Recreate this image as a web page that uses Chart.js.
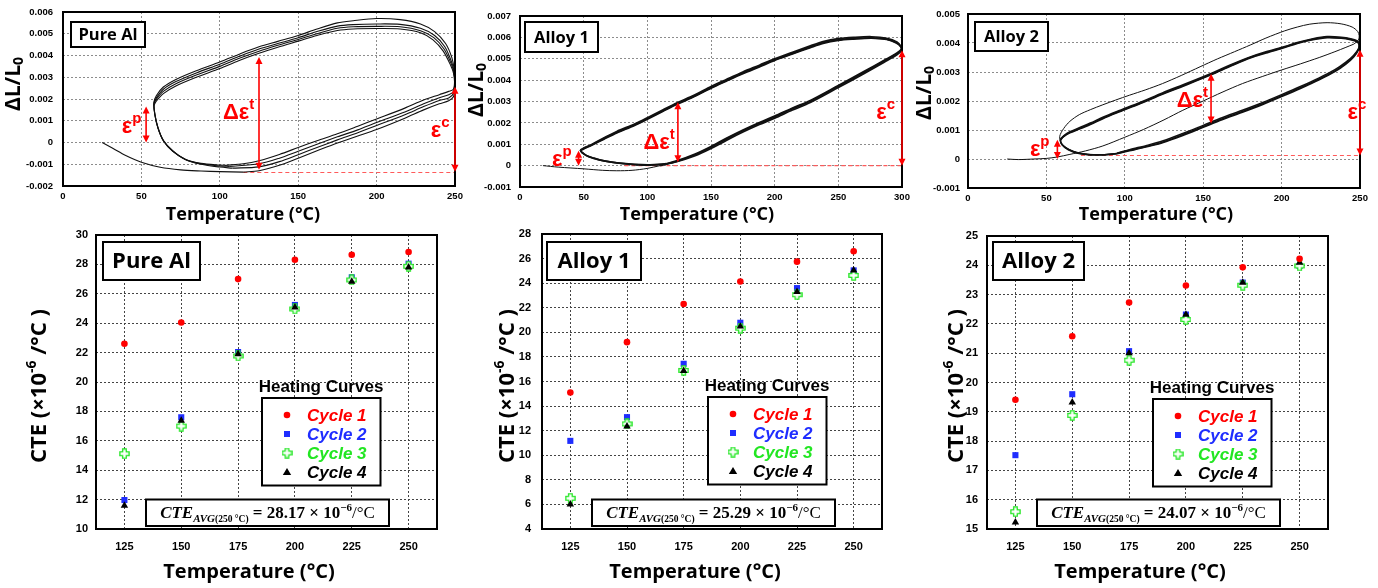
<!DOCTYPE html>
<html>
<head>
<meta charset="utf-8">
<script src="https://cdn.jsdelivr.net/npm/chart.js@4.4.1/dist/chart.umd.min.js"></script>
<style>
  html, body { margin: 0; padding: 0; background: #fff; }
  #wrap { position: relative; width: 1378px; height: 588px; overflow: hidden; background: #fff; }
  canvas { position: absolute; }
</style>
</head>
<body>
<div id="wrap">
  <canvas id="pureLoop" width="470" height="228" style="left:0;top:0"></canvas>
  <canvas id="alloy1Loop" width="458" height="228" style="left:460px;top:0"></canvas>
  <canvas id="alloy2Loop" width="468" height="228" style="left:910px;top:0"></canvas>
  <canvas id="pureCte" width="460" height="360" style="left:0;top:228px"></canvas>
  <canvas id="alloy1Cte" width="458" height="360" style="left:460px;top:228px"></canvas>
  <canvas id="alloy2Cte" width="460" height="360" style="left:918px;top:228px"></canvas>
</div>
<script>
// ---- dilatometer curves: [temperature °C, ΔL/L0 in units of 1e-3] ----
const pureInitial = [[25,0],[32,-0.28],[40,-0.6],[50,-0.91],[62,-1.14],[75,-1.26],[88,-1.31],[100,-1.34],[115,-1.36]];
const pureCycle1 = [[115,-1.36],[125,-1.3],[138,-1.05],[150,-0.72],[162,-0.38],[175,-0.02],[188,0.3],[200,0.6],[218,1.12],[230,1.5],[240,1.78],[246,1.92],[249,2.1],[250,2.6],[249.6,3.3],[248,3.9],[244,4.55],[237,5.1],[228,5.45],[215,5.65],[200,5.7],[185,5.6],[175,5.5],[162,5.22],[150,4.92],[137,4.65],[125,4.4],[112,4.05],[100,3.7],[85,3.3],[72,2.9],[64,2.55],[59.5,2.15],[58,1.85],[58.5,1.35],[60.5,0.7],[64,0.1],[70,-0.38],[78,-0.78],[88,-1.0],[100,-1.13],[108,-1.18]];
const pureCycle2 = [[108,-1.18],[125,-1.12],[138,-0.88],[150,-0.56],[162,-0.23],[175,0.12],[188,0.45],[200,0.78],[218,1.28],[230,1.65],[240,1.93],[246,2.05],[249,2.25],[249.8,2.7],[249.3,3.3],[247.6,3.75],[243.5,4.4],[237,4.92],[228,5.25],[215,5.43],[200,5.45],[185,5.42],[175,5.35],[162,5.1],[150,4.82],[137,4.55],[125,4.3],[112,3.95],[100,3.6],[85,3.2],[72,2.8],[64,2.45],[59.5,2.05],[58,1.8],[58.5,1.3],[60.5,0.68],[64,0.08],[70,-0.4],[78,-0.78],[88,-0.98],[100,-1.08],[106,-1.1]];
const pureCycle3 = [[106,-1.1],[125,-0.98],[138,-0.72],[150,-0.4],[162,-0.08],[175,0.26],[188,0.58],[200,0.92],[218,1.4],[230,1.78],[240,2.06],[246,2.2],[249,2.35],[249.8,2.75],[249.2,3.25],[247.4,3.65],[243,4.3],[236.5,4.82],[228,5.14],[215,5.32],[200,5.34],[185,5.32],[175,5.25],[162,5.0],[150,4.74],[137,4.47],[125,4.2],[112,3.86],[100,3.5],[85,3.1],[72,2.7],[64,2.35],[59.5,1.98],[58,1.76],[58.6,1.28],[60.6,0.66],[64.2,0.06],[70,-0.41],[78,-0.77],[88,-0.96],[100,-1.04],[104,-1.05]];
const pureCycle4 = [[104,-1.05],[115,-0.98],[125,-0.84],[138,-0.55],[150,-0.23],[162,0.08],[175,0.4],[188,0.75],[200,1.08],[218,1.58],[230,1.95],[240,2.2],[246,2.35],[249,2.45],[249.7,2.8],[249,3.2],[247.2,3.55],[242.5,4.2],[236,4.72],[228,5.05],[215,5.22],[200,5.24],[185,5.22],[175,5.15],[162,4.92],[150,4.66],[137,4.38],[125,4.1],[112,3.76],[100,3.4],[85,3.0],[72,2.6],[64,2.25],[59.5,1.9],[58,1.7]];

const alloy1Initial = [[18,0],[30,-0.07],[50,-0.15],[65,-0.22],[76,-0.24],[88,-0.22],[100,-0.13],[110,0]];
const alloy1Cycle1 = [[110,0],[123,0.18],[137,0.45],[150,0.8],[162,1.18],[175.5,1.58],[188,1.92],[200,2.22],[214,2.6],[228,2.95],[250,3.65],[270,4.3],[286,4.84],[296,5.18],[299.5,5.38],[299.3,5.55],[296,5.78],[288,5.96],[276,6.03],[262,6.0],[250,5.94],[238,5.8],[228,5.6],[214,5.3],[200,5.0],[188,4.7],[175,4.38],[162,4.03],[150,3.7],[137,3.3],[123,2.93],[112,2.6],[102,2.3],[90,1.95],[76,1.6],[66,1.3],[56,0.98],[50,0.82],[47.5,0.72],[52,0.48],[58,0.35],[66,0.22],[76,0.13],[90,0.05],[102,0.02],[115,0.07]];
const alloy1Cycle2 = [[115,0.07],[123,0.2],[137,0.5],[150,0.86],[162,1.24],[175.5,1.64],[188,1.98],[200,2.28],[214,2.66],[228,3.01],[250,3.71],[270,4.36],[286,4.9],[296,5.24],[299.5,5.42],[299.2,5.56],[296,5.75],[288,5.92],[276,5.98],[262,5.95],[250,5.89],[238,5.75],[228,5.55],[214,5.25],[200,4.95],[188,4.65],[175,4.33],[162,3.98],[150,3.65],[137,3.26],[123,2.89],[112,2.56],[102,2.26],[90,1.91],[76,1.56],[66,1.27],[56,0.96],[50,0.8],[47.5,0.71],[52,0.47],[58,0.34],[66,0.22],[76,0.13],[90,0.06],[102,0.04],[115,0.09]];
const alloy1Cycle3 = [[115,0.09],[123,0.22],[137,0.53],[150,0.9],[162,1.28],[175.5,1.68],[188,2.02],[200,2.32],[214,2.7],[228,3.05],[250,3.75],[270,4.4],[286,4.93],[296,5.27],[299.5,5.45],[299,5.58],[295.5,5.74],[288,5.9],[276,5.96],[262,5.92],[250,5.86],[238,5.72],[228,5.52],[214,5.22],[200,4.92],[188,4.62],[175,4.3],[162,3.95],[150,3.62],[137,3.23],[123,2.86],[112,2.53],[102,2.23],[90,1.88],[76,1.53],[66,1.24],[56,0.94],[50,0.78],[47.5,0.7]];

const alloy2Initial = [[25,0],[32,-0.02],[42,0],[50,0.02],[57,0.07],[65,0.16],[75,0.28],[86,0.45],[100,0.75],[112,1.02],[125,1.35],[137,1.68],[150,2.0],[162,2.3],[175,2.6],[188,2.85],[200,3.07],[212,3.28],[224,3.5],[234,3.7],[241,3.85],[246,3.96]];
const alloy2Cycle1 = [[246,3.96],[249,4.1],[249.5,4.25],[248.5,4.4],[245,4.55],[238,4.66],[229,4.7],[218,4.65],[210,4.55],[202,4.42],[190,4.17],[180,3.93],[170,3.7],[159,3.45],[148,3.18],[136,2.88],[124,2.6],[113,2.38],[103,2.2],[94,2.03],[86,1.87],[78,1.7],[71,1.53],[65,1.3],[61,1.05],[58.5,0.78],[59.5,0.55],[63,0.38],[69,0.24],[76,0.17],[86,0.15],[95,0.2]];
const alloy2Cycle2 = [[95,0.2],[103,0.32],[114,0.47],[124,0.62],[137,0.88],[150,1.16],[162,1.42],[175,1.68],[188,1.95],[200,2.22],[212,2.5],[224,2.8],[234,3.08],[241,3.34],[246,3.58],[249,3.8],[249.5,3.97],[248,4.08],[244,4.15],[238,4.2],[229,4.22],[220,4.15],[210,4.02],[202,3.88],[190,3.7],[180,3.52],[168,3.26],[155,2.95],[140,2.62],[124,2.28],[110,1.96],[95,1.64],[86,1.44],[78,1.24],[71,1.08],[65,0.94],[61,0.8],[59,0.67],[60,0.5],[64,0.33],[70,0.21],[78,0.15],[86,0.15],[95,0.19]];
const alloy2Cycle3 = [[95,0.19],[103,0.3],[114,0.44],[124,0.58],[137,0.84],[150,1.12],[162,1.38],[175,1.64],[188,1.91],[200,2.18],[212,2.46],[224,2.76],[234,3.04],[241,3.3],[246,3.55],[249,3.78],[249.5,3.96],[248,4.06],[244,4.13],[238,4.18],[229,4.2],[220,4.13],[210,4.0],[202,3.86],[190,3.67],[180,3.5],[168,3.23],[155,2.92],[140,2.59],[124,2.25],[110,1.93],[95,1.61],[86,1.41],[78,1.21],[71,1.05],[65,0.92],[61,0.78],[59,0.66],[60,0.49],[64,0.32],[70,0.2],[78,0.14],[86,0.14],[95,0.18]];
const alloy2Cycle4 = [[95,0.18],[103,0.28],[114,0.42],[124,0.56],[137,0.81],[150,1.09],[162,1.35],[175,1.61],[188,1.88],[200,2.15],[212,2.43],[224,2.73],[234,3.01],[241,3.27],[246,3.52],[249,3.76],[249.4,3.94],[248,4.04],[244,4.11],[238,4.16],[229,4.18],[220,4.11],[210,3.98],[202,3.84],[190,3.65],[180,3.48],[168,3.21],[155,2.9],[140,2.57],[124,2.23],[110,1.91],[95,1.59],[86,1.39],[78,1.19],[71,1.03],[65,0.9],[61,0.77],[59,0.65]];

// strain markers (1e-3): arrows [T, from, to], dashed [T1, T2, level], labels [main, sup, T right edge, baseline]
const pureArrows = [[53, 0, 1.65], [125, -1.25, 3.93], [250, -1.35, 2.56]];
const pureDashed = [115, 250, -1.38];
const pureLabels = [['ε', 'p', 50, 0.45], ['Δε', 't', 122, 1.08], ['ε', 'c', 246.5, 0.24]];
const alloy1Arrows = [[46, 0, 0.7], [124, 0.16, 2.97], [300, 0, 5.4]];
const alloy1Dashed = [82, 300, 0];
const alloy1Labels = [['ε', 'p', 40.5, 0.0], ['Δε', 't', 121.5, 0.78], ['ε', 'c', 294.5, 2.18]];
const alloy2Arrows = [[57, 0, 0.66], [155, 1.22, 2.94], [250, 0.12, 3.77]];
const alloy2Dashed = [72, 250, 0.12];
const alloy2Labels = [['ε', 'p', 52, 0.1], ['Δε', 't', 153, 1.78], ['ε', 'c', 254, 1.37]];

// ---- CTE (x10^-6 /°C) per heating cycle ----
const temps = [125, 150, 175, 200, 225, 250];
const pureCte = [
  [22.6, 24.05, 27.0, 28.32, 28.66, 28.84],
  [11.97, 17.6, 22.04, 25.24, 27.12, 28.05],
  [15.12, 17.0, 21.77, 24.97, 26.94, 27.87],
  [11.6, 17.37, 21.9, 25.08, 26.83, 27.8]
];
const alloy1Cte = [
  [15.1, 19.2, 22.3, 24.14, 25.75, 26.6],
  [11.17, 13.1, 17.44, 20.78, 23.6, 25.04],
  [6.5, 12.55, 16.9, 20.34, 23.06, 24.63],
  [6.0, 12.36, 16.87, 20.48, 23.3, 25.04]
];
const alloy2Cte = [
  [19.41, 21.58, 22.73, 23.31, 23.93, 24.22],
  [17.52, 19.6, 21.07, 22.32, 23.41, 23.98],
  [15.59, 18.88, 20.76, 22.15, 23.32, 23.98],
  [15.23, 19.32, 21.0, 22.32, 23.41, 24.09]
];
const cycleNames = ['Cycle 1', 'Cycle 2', 'Cycle 3', 'Cycle 4'];
const cteAvg = ['28.17', '25.29', '24.07'];

const RED = '#ff0000', BLUE = '#1f2dff', GREEN = '#22e622';
const SANS = '"Liberation Sans", Arial, sans-serif';
const OPEN = '"Open Sans", sans-serif';
const SERIF = '"Liberation Serif", serif';

// open plus marker
const plusImg = document.createElement('canvas');
plusImg.width = plusImg.height = 11;
(function () {
  const p = plusImg.getContext('2d');
  const c = 5.5, a = 1.8, b = 4.6;
  p.beginPath();
  p.moveTo(c - a, c - b); p.lineTo(c + a, c - b); p.lineTo(c + a, c - a); p.lineTo(c + b, c - a);
  p.lineTo(c + b, c + a); p.lineTo(c + a, c + a); p.lineTo(c + a, c + b); p.lineTo(c - a, c + b);
  p.lineTo(c - a, c + a); p.lineTo(c - b, c + a); p.lineTo(c - b, c - a); p.lineTo(c - a, c - a);
  p.closePath();
  p.fillStyle = '#fff'; p.fill();
  p.strokeStyle = GREEN; p.lineWidth = 1.3; p.stroke();
})();

function rich(ctx, segs, x, y, align) {
  let w = 0;
  segs.forEach(s => { ctx.font = s[1]; w += ctx.measureText(s[0]).width; });
  let cx = align === 'center' ? x - w / 2 : align === 'right' ? x - w : x;
  ctx.textAlign = 'left';
  segs.forEach(s => {
    ctx.font = s[1];
    ctx.fillStyle = s[3] || '#000';
    ctx.fillText(s[0], cx, y + (s[2] || 0));
    cx += ctx.measureText(s[0]).width;
  });
}

function marker(ctx, kind, x, y) {
  ctx.save();
  if (kind === 0) { ctx.fillStyle = RED; ctx.beginPath(); ctx.arc(x, y, 3.3, 0, Math.PI * 2); ctx.fill(); }
  else if (kind === 1) { ctx.fillStyle = BLUE; ctx.fillRect(x - 3, y - 3, 6, 6); }
  else if (kind === 2) { ctx.drawImage(plusImg, x - 5.5, y - 5.5); }
  else { ctx.fillStyle = '#000'; ctx.beginPath(); ctx.moveTo(x, y - 4); ctx.lineTo(x + 4.2, y + 3); ctx.lineTo(x - 4.2, y + 3); ctx.closePath(); ctx.fill(); }
  ctx.restore();
}

function boxText(ctx, x, y, w, h, text, font) {
  ctx.fillStyle = '#fff'; ctx.fillRect(x, y, w, h);
  ctx.lineWidth = 2; ctx.strokeStyle = '#000'; ctx.strokeRect(x, y, w, h);
  ctx.fillStyle = '#000'; ctx.font = font; ctx.textAlign = 'center'; ctx.textBaseline = 'middle';
  ctx.fillText(text, x + w / 2, y + h / 2 + 1);
}

function deco(spec) {
  return {
    id: 'deco',
    beforeDatasetsDraw(chart) {
      if (!spec.dashed) return;
      const ctx = chart.ctx, xs = chart.scales.x, ys = chart.scales.y;
      const [t1, t2, v] = spec.dashed;
      ctx.save();
      ctx.strokeStyle = '#ff5a5a'; ctx.lineWidth = 1.2; ctx.setLineDash([4, 3]);
      ctx.beginPath();
      ctx.moveTo(xs.getPixelForValue(t1), ys.getPixelForValue(v / 1000));
      ctx.lineTo(xs.getPixelForValue(t2), ys.getPixelForValue(v / 1000));
      ctx.stroke();
      ctx.restore();
    },
    afterDraw(chart) {
      const ctx = chart.ctx, a = chart.chartArea, xs = chart.scales.x, ys = chart.scales.y;
      ctx.save();
      ctx.strokeStyle = '#000'; ctx.lineWidth = spec.frame;
      ctx.strokeRect(a.left, a.top, a.right - a.left, a.bottom - a.top);

      // strain arrows
      (spec.arrows || []).forEach(([t, v1, v2]) => {
        const x = xs.getPixelForValue(t), ya = ys.getPixelForValue(v1 / 1000), yb = ys.getPixelForValue(v2 / 1000);
        ctx.strokeStyle = RED; ctx.fillStyle = RED; ctx.lineWidth = 1.6;
        ctx.beginPath(); ctx.moveTo(x, ya - 3); ctx.lineTo(x, yb + 3); ctx.stroke();
        ctx.beginPath(); ctx.moveTo(x, ya); ctx.lineTo(x - 3.5, ya - 7); ctx.lineTo(x + 3.5, ya - 7); ctx.closePath(); ctx.fill();
        ctx.beginPath(); ctx.moveTo(x, yb); ctx.lineTo(x - 3.5, yb + 7); ctx.lineTo(x + 3.5, yb + 7); ctx.closePath(); ctx.fill();
      });
      ctx.textBaseline = 'alphabetic';
      (spec.labels || []).forEach(([m, s, t, v]) => {
        rich(ctx, [[m, 'bold 22px ' + SANS, 0, RED], [s, 'bold 15px ' + SANS, -10, RED]],
          xs.getPixelForValue(t), ys.getPixelForValue(v / 1000), 'right');
      });

      // name box
      if (spec.box) {
        const b = spec.box;
        boxText(ctx, a.left + b[0], a.top + b[1], b[2], b[3], b[4], b[5]);
      }

      // legend
      if (spec.legend) {
        const lx = a.left + 166, ly = a.top + 163;
        ctx.textAlign = 'center'; ctx.textBaseline = 'middle';
        ctx.fillStyle = '#000'; ctx.font = 'bold 17px ' + SANS;
        ctx.fillText('Heating Curves', lx + 59, ly - 11);
        ctx.fillStyle = '#fff'; ctx.fillRect(lx, ly, 118.5, 87.5);
        ctx.lineWidth = 2; ctx.strokeStyle = '#000'; ctx.strokeRect(lx, ly, 118.5, 87.5);
        const rows = [17, 36, 55, 74], cols = [RED, BLUE, GREEN, '#000'];
        rows.forEach((r, i) => {
          marker(ctx, i, lx + 25, ly + r);
          ctx.textAlign = 'left'; ctx.textBaseline = 'middle';
          ctx.font = 'italic bold 17px ' + SANS; ctx.fillStyle = cols[i];
          ctx.fillText(cycleNames[i], lx + 45, ly + r + 1);
        });
      }

      // average CTE box
      if (spec.avg) {
        const x = a.left + 50, y = a.bottom - 29.5, w = 243, h = 26.5;
        ctx.fillStyle = '#fff'; ctx.fillRect(x, y, w, h);
        ctx.lineWidth = 2; ctx.strokeStyle = '#000'; ctx.strokeRect(x, y, w, h);
        ctx.textBaseline = 'alphabetic';
        rich(ctx, [
          ['CTE', 'bold italic 17px ' + SERIF, 0],
          ['AVG', 'bold italic 11px ' + SERIF, 4],
          ['(250 °C)', 'bold 9.5px ' + SERIF, 4],
          [' = ' + spec.avg + ' × 10', 'bold 17px ' + SERIF, 0],
          ['−6', 'bold 11px ' + SERIF, -7],
          ['/°C', '17px ' + SERIF, 0]
        ], x + w / 2, y + 18.5, 'center');
      }

      // axis titles
      ctx.textBaseline = 'middle';
      rich(ctx, spec.xTitle[2], spec.xTitle[0], spec.xTitle[1], 'center');
      ctx.translate(spec.yTitle[0], spec.yTitle[1]);
      ctx.rotate(-Math.PI / 2);
      rich(ctx, spec.yTitle[2], 0, 0, 'center');
      ctx.restore();
    }
  };
}

const pts = arr => arr.map(([t, v]) => ({ x: t, y: v / 1000 }));

function loopChart(id, W, H, area, xMax, yMin, yMax, curves, widths, tickPad, spec) {
  new Chart(document.getElementById(id), {
    type: 'scatter',
    data: {
      datasets: curves.map((c, i) => ({
        data: pts(c), showLine: true, pointRadius: 0, borderColor: '#111',
        borderWidth: widths[i], tension: 0.3, fill: false
      }))
    },
    options: {
      responsive: false, animation: false, events: [],
      layout: { padding: { left: 0, top: area[1], right: W - area[2], bottom: 0 } },
      plugins: { legend: { display: false }, tooltip: { enabled: false } },
      scales: {
        x: {
          type: 'linear', min: 0, max: xMax,
          ticks: { stepSize: 50, color: '#000', padding: 5, maxRotation: 0, font: { family: SANS, size: 9.5, weight: 'bold' } },
          grid: { color: '#8c8c8c', lineWidth: 1, drawTicks: false },
          border: { display: false, dash: [2, 2] },
          afterFit: s => { s.height = H - area[3]; s.paddingLeft = 0; s.paddingRight = 0; }
        },
        y: {
          type: 'linear', min: yMin, max: yMax,
          ticks: {
            stepSize: 0.001, color: '#000', padding: tickPad,
            font: { family: SANS, size: 9.5, weight: 'bold' },
            callback: v => Math.abs(v) < 1e-9 ? '0' : v.toFixed(3)
          },
          grid: { color: '#8c8c8c', lineWidth: 1, drawTicks: false },
          border: { display: false, dash: [2, 2] },
          afterFit: s => { s.width = area[0]; s.paddingTop = 0; s.paddingBottom = 0; }
        }
      }
    },
    plugins: [deco(spec)]
  });
}

function cteChart(id, W, H, area, yMin, yMax, yStep, series, tickPad, spec) {
  const styles = ['circle', 'rect', plusImg, 'triangle'];
  const colors = [RED, BLUE, GREEN, '#000'];
  const radii = [3.3, 4.3, 5, 4.3];
  const orders = [0, 3, 2, 1];
  new Chart(document.getElementById(id), {
    type: 'scatter',
    data: {
      datasets: series.map((vals, i) => ({
        label: cycleNames[i],
        data: vals.map((v, j) => ({ x: temps[j], y: v })),
        pointStyle: styles[i], pointRadius: radii[i],
        backgroundColor: colors[i], borderColor: colors[i], borderWidth: 0,
        order: orders[i]
      }))
    },
    options: {
      responsive: false, animation: false, events: [],
      layout: { padding: { left: 0, top: area[1], right: W - area[2], bottom: 0 } },
      plugins: { legend: { display: false }, tooltip: { enabled: false } },
      scales: {
        x: {
          type: 'linear', min: 112.5, max: 262.5,
          afterBuildTicks: s => { s.ticks = temps.map(v => ({ value: v })); },
          ticks: { color: '#000', padding: 11, maxRotation: 0, autoSkip: false, font: { family: SANS, size: 11, weight: 'bold' } },
          grid: { color: '#444', lineWidth: 1, drawTicks: false },
          border: { display: false, dash: [2, 2] },
          afterFit: s => { s.height = H - area[3]; s.paddingLeft = 0; s.paddingRight = 0; }
        },
        y: {
          type: 'linear', min: yMin, max: yMax,
          ticks: { stepSize: yStep, color: '#000', padding: tickPad, font: { family: SANS, size: 11, weight: 'bold' } },
          grid: { color: '#444', lineWidth: 1, drawTicks: false },
          border: { display: false, dash: [2, 2] },
          afterFit: s => { s.width = area[0]; s.paddingTop = 0; s.paddingBottom = 0; }
        }
      }
    },
    plugins: [deco(spec)]
  });
}

const topX = [['Temperature (°C)', 'bold 18px ' + OPEN, 0]];
const topY = [['ΔL/L', 'bold 21px ' + OPEN, 0], ['0', 'bold 14px ' + OPEN, 5]];
const botX = [['Temperature (°C)', 'bold 20px ' + OPEN, 0]];
const botY = [['CTE (×10', 'bold 22px ' + OPEN, 0], ['-6', 'bold 14px ' + OPEN, -8], [' /°C )', 'bold 22px ' + OPEN, 0]];

loopChart('pureLoop', 470, 228, [63, 12, 455, 186], 250, -0.002, 0.006,
  [pureInitial, pureCycle1, pureCycle2, pureCycle3, pureCycle4], [1.1, 1.1, 1.1, 1.1, 1.1], 10,
  { frame: 2, arrows: pureArrows, dashed: pureDashed, labels: pureLabels,
    box: [8, 10, 74, 25, 'Pure Al', 'bold 16.5px ' + OPEN],
    xTitle: [243, 215, topX], yTitle: [14, 84, topY] });

loopChart('alloy1Loop', 458, 228, [60, 16, 442, 187], 300, -0.001, 0.007,
  [alloy1Initial, alloy1Cycle1, alloy1Cycle2, alloy1Cycle3], [1, 1.7, 1.7, 1.7], 9,
  { frame: 2, arrows: alloy1Arrows, dashed: alloy1Dashed, labels: alloy1Labels,
    box: [5, 6, 73, 30, 'Alloy 1', 'bold 16.5px ' + OPEN],
    xTitle: [237, 215, topX], yTitle: [17, 90, topY] });

loopChart('alloy2Loop', 468, 228, [58, 14, 450, 188], 250, -0.001, 0.005,
  [alloy2Initial, alloy2Cycle1, alloy2Cycle2, alloy2Cycle3, alloy2Cycle4], [1, 1, 1.5, 1.5, 1.5], 8,
  { frame: 2, arrows: alloy2Arrows, dashed: alloy2Dashed, labels: alloy2Labels,
    box: [7, 8, 73, 29, 'Alloy 2', 'bold 16.5px ' + OPEN],
    xTitle: [246, 215, topX], yTitle: [15, 93, topY] });

cteChart('pureCte', 460, 360, [96, 7, 437, 301], 10, 30, 2, pureCte, 8,
  { frame: 2, legend: true, avg: cteAvg[0],
    box: [7, 7, 97, 38, 'Pure Al', 'bold 22px ' + OPEN],
    xTitle: [249, 344, botX], yTitle: [40, 158, botY] });

cteChart('alloy1Cte', 458, 360, [82, 6, 422, 301], 4, 28, 2, alloy1Cte, 11,
  { frame: 2, legend: true, avg: cteAvg[1],
    box: [5, 8, 94, 38, 'Alloy 1', 'bold 22px ' + OPEN],
    xTitle: [235, 344, botX], yTitle: [48, 158, botY] });

cteChart('alloy2Cte', 460, 360, [69, 8, 410, 301], 15, 25, 1, alloy2Cte, 9,
  { frame: 2, legend: true, avg: cteAvg[2],
    box: [6, 6, 91, 38, 'Alloy 2', 'bold 22px ' + OPEN],
    xTitle: [222, 344, botX], yTitle: [39, 158, botY] });
</script>
</body>
</html>
